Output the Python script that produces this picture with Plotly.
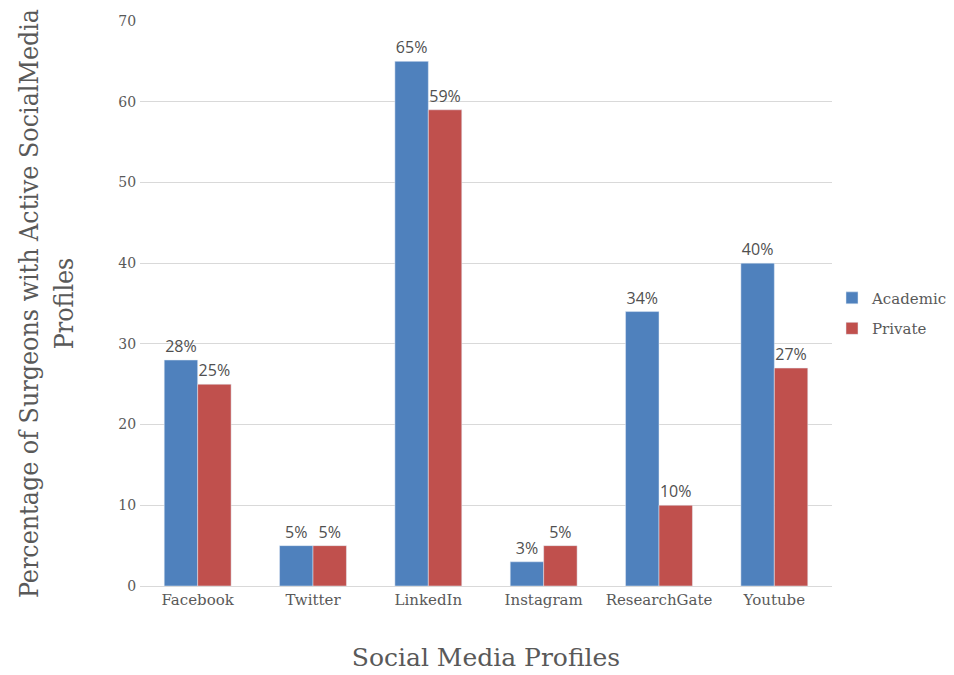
import plotly.graph_objects as go

categories = ["Facebook", "Twitter", "LinkedIn", "Instagram", "ResearchGate", "Youtube"]
academic = [28, 5, 65, 3, 34, 40]
private = [25, 5, 59, 5, 10, 27]
y_ticks = [0, 10, 20, 30, 40, 50, 60, 70]

serif = "DejaVu Serif"
serif_c = "DejaVu Serif Condensed"
gray = "#595959"

fig = go.Figure()
fig.add_trace(go.Bar(name="Academic", x=categories, y=academic, marker_color="#4f81bd",
                     legendgroup="a",
                     text=[f"{v}%" for v in academic], textposition="outside",
                     textfont=dict(family="Open Sans", size=16, color="#505050"),
                     cliponaxis=False))
fig.add_trace(go.Bar(name="Private", x=categories, y=private, marker_color="#c0504d",
                     legendgroup="p",
                     text=[f"{v}%" for v in private], textposition="outside",
                     textfont=dict(family="Open Sans", size=16, color="#505050"),
                     cliponaxis=False))

fig.update_layout(
    width=954, height=675,
    margin=dict(l=140, r=122, t=21, b=89, autoexpand=False),
    paper_bgcolor="white", plot_bgcolor="white",
    barmode="group", bargap=0.42, bargroupgap=0,
    font=dict(family=serif, color=gray, size=14),
    legend=dict(x=1.0, y=0.483, xanchor="left", yanchor="middle", tracegroupgap=8,
                font=dict(family=serif, size=15, color=gray), itemwidth=30),
    xaxis=dict(showline=True, linecolor="#d9d9d9", linewidth=1, ticks="",
               tickfont=dict(family=serif, size=15, color=gray),
               title=dict(text="Social Media Profiles", font=dict(family=serif, size=25, color=gray), standoff=40)),
    yaxis=dict(range=[0, 70], tickvals=y_ticks, showgrid=True, gridcolor="#d9d9d9", zeroline=False,
               ticks="outside", ticklen=0, tickcolor="white",
               tickfont=dict(family=serif, size=14, color=gray),
               title=dict(text="Percentage of Surgeons with Active SocialMedia<br>Profiles",
                          font=dict(family=serif_c + ", " + serif, size=26.5, color=gray), standoff=37)),
)

fig.write_html("out.html")
